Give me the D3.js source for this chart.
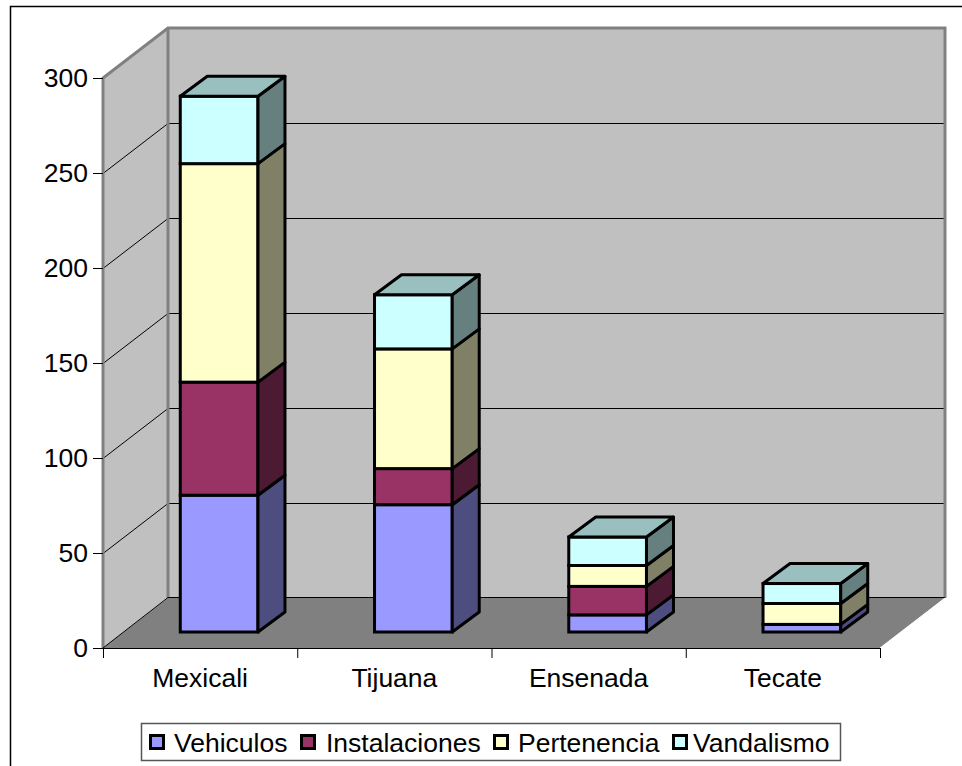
<!DOCTYPE html>
<html>
<head>
<meta charset="utf-8">
<script src="https://cdnjs.cloudflare.com/ajax/libs/d3/7.8.5/d3.min.js"></script>
<style>
html, body { margin: 0; padding: 0; background: #fff; }
svg { display: block; font-family: "Liberation Sans", Arial, sans-serif; }
</style>
</head>
<body>
<script>
// values
var categories = ["Mexicali", "Tijuana", "Ensenada", "Tecate"];
var seriesNames = ["Vehiculos", "Instalaciones", "Pertenencia", "Vandalismo"];
var vehiculos = [72, 67, 9, 4];
var instalaciones = [59.5, 19, 15, 0];
var pertenencia = [115, 63, 11, 11];
var vandalismo = [35.5, 28.5, 15, 10.5];
var yTicks = [0, 50, 100, 150, 200, 250, 300];

var colors = ["#9999FF", "#993366", "#FFFFCC", "#CCFFFF"];
var sideColors = ["#4D4D80", "#4D1A33", "#808066", "#668080"];
var topColors = ["#7373BF", "#73264D", "#BFBF99", "#99BFBF"];

var width = 962;
var height = 766;

// front of the 3d box, and how far the back wall is pushed
var x0 = 103, x1 = 880, y0 = 648, y1 = 78;
var depthX = 65, depthY = -50;
// bars sit inside the depth
var barDX = 19, barDY = -16, barDepthX = 27, barDepthY = -20;

var svg = d3.select("body").append("svg")
  .attr("width", width)
  .attr("height", height);

var y = d3.scaleLinear().domain([0, 300]).range([y0, y1]);
var x = d3.scaleBand().domain(categories).range([x0, x1]).paddingInner(0.6).paddingOuter(0.3);

var pts = function(a) {
  return a.map(function(p) { return p[0] + "," + p[1]; }).join(" ");
};

// chart border, right and bottom run off the page
svg.append("rect")
  .attr("x", 10.5).attr("y", 6.5)
  .attr("width", 970).attr("height", 780)
  .attr("fill", "#fff")
  .attr("stroke", "#000")
  .attr("stroke-width", 1.5);

// back wall
svg.append("polygon")
  .attr("points", pts([[x0 + depthX, y1 + depthY], [x1 + depthX, y1 + depthY], [x1 + depthX, y0 + depthY], [x0 + depthX, y0 + depthY]]))
  .attr("fill", "#C0C0C0");
// left wall
svg.append("polygon")
  .attr("points", pts([[x0, y1], [x0 + depthX, y1 + depthY], [x0 + depthX, y0 + depthY], [x0, y0]]))
  .attr("fill", "#C0C0C0");

// gridlines
var grid = svg.append("g");
yTicks.slice(1, -1).forEach(function(t) {
  grid.append("polyline")
    .attr("points", pts([[x0, y(t) + 0.5], [x0 + depthX, y(t) + depthY + 0.5], [x1 + depthX, y(t) + depthY + 0.5]]))
    .attr("fill", "none")
    .attr("stroke", "#000")
    .attr("stroke-width", 1);
});

// wall edges
svg.append("polyline")
  .attr("points", pts([[x0, y0], [x0, y1], [x0 + depthX, y1 + depthY], [x1 + depthX, y1 + depthY], [x1 + depthX, y0 + depthY]]))
  .attr("fill", "none").attr("stroke", "#808080").attr("stroke-width", 3);
svg.append("line")
  .attr("x1", x0 + depthX).attr("y1", y1 + depthY)
  .attr("x2", x0 + depthX).attr("y2", y0 + depthY)
  .attr("stroke", "#808080").attr("stroke-width", 3);

// floor
svg.append("polygon")
  .attr("points", pts([[x0, y0], [x0 + depthX, y0 + depthY], [x1 + depthX, y0 + depthY], [x1, y0]]))
  .attr("fill", "#808080");
svg.append("polyline")
  .attr("points", pts([[x0, y0], [x0 + depthX, y0 + depthY - 0.5], [x1 + depthX, y0 + depthY - 0.5]]))
  .attr("fill", "none").attr("stroke", "#000").attr("stroke-width", 1);
svg.append("line")
  .attr("x1", x1).attr("y1", y0)
  .attr("x2", x1 + depthX).attr("y2", y0 + depthY)
  .attr("stroke", "#fff").attr("stroke-width", 1);

// axes
var yAxis = d3.axisLeft(y).tickValues(yTicks).tickSize(10).tickPadding(5).tickFormat(d3.format("d"));
var gy = svg.append("g").attr("transform", "translate(" + x0 + ",0)").call(yAxis);
gy.select(".domain").remove();
gy.selectAll("text").attr("font-size", 26.5).attr("fill", "#000").attr("font-family", "Liberation Sans");

var xLine = d3.axisBottom(d3.scaleLinear().domain([0, 4]).range([x0, x1])).ticks(4).tickSize(10).tickFormat("");
var gx = svg.append("g").attr("transform", "translate(0," + y0 + ")").call(xLine);
gx.select(".domain").attr("stroke-width", 1);

svg.selectAll(".cat").data(categories).enter().append("text")
  .attr("class", "cat")
  .attr("x", function(d, i) { return x0 + (x1 - x0) * (i + 0.5) / 4; })
  .attr("y", 687)
  .attr("text-anchor", "middle")
  .attr("font-size", 26.5)
  .text(function(d) { return d; });

// stacked bars
var rows = categories.map(function(c, i) {
  return { cat: c, v: [vehiculos[i], instalaciones[i], pertenencia[i], vandalismo[i]] };
});

rows.forEach(function(r) {
  var bar = svg.append("g");
  var left = x(r.cat) + barDX;
  var right = left + x.bandwidth();
  var total = 0;
  r.v.forEach(function(val, s) {
    if (!val) return;
    var bottom = y(total) + barDY;
    total += val;
    var top = y(total) + barDY;
    bar.append("rect")
      .attr("x", left).attr("y", top)
      .attr("width", right - left).attr("height", bottom - top)
      .attr("fill", colors[s]).attr("stroke", "#000").attr("stroke-width", 3);
    bar.append("polygon")
      .attr("points", pts([[right, bottom], [right + barDepthX, bottom + barDepthY], [right + barDepthX, top + barDepthY], [right, top]]))
      .attr("fill", sideColors[s]).attr("stroke", "#000").attr("stroke-width", 3).attr("stroke-linejoin", "round");
    if (s === r.v.length - 1) {
      bar.append("polygon")
        .attr("points", pts([[left, top], [left + barDepthX, top + barDepthY], [right + barDepthX, top + barDepthY], [right, top]]))
        .attr("fill", topColors[s]).attr("stroke", "#000").attr("stroke-width", 3).attr("stroke-linejoin", "round");
    }
  });
});

// legend
var legend = svg.append("g");
legend.append("rect")
  .attr("x", 141.5).attr("y", 723.5)
  .attr("width", 699).attr("height", 37)
  .attr("fill", "#fff").attr("stroke", "#555").attr("stroke-width", 1.5);
var swatchX = [150.5, 301.5, 494.5, 673.5];
var labelX = [174, 326, 518, 693];
seriesNames.forEach(function(name, i) {
  legend.append("rect")
    .attr("x", swatchX[i]).attr("y", 735.5)
    .attr("width", 13).attr("height", 13)
    .attr("fill", colors[i]).attr("stroke", "#000").attr("stroke-width", 3);
  legend.append("text")
    .attr("x", labelX[i]).attr("y", 752)
    .attr("font-size", 26.5)
    .text(name);
});
</script>
</body>
</html>
